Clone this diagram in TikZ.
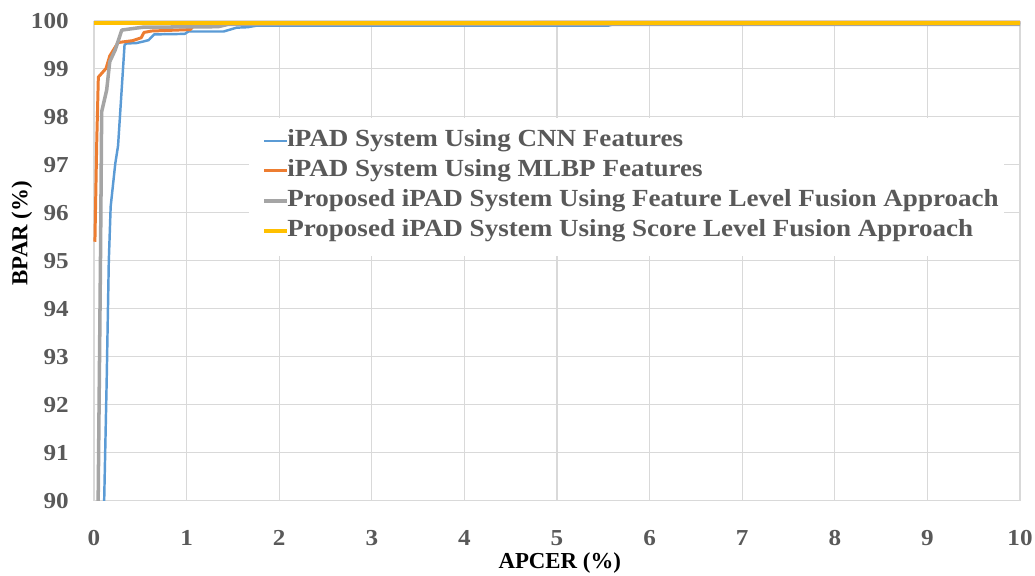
\documentclass[tikz,border=0pt]{standalone}
\usepackage{xcolor}
\usepackage{fontspec}
\setmainfont{Liberation Serif}
\newfontfamily\chartfont{Liberation Serif}[FakeStretch=1.1]
\usepackage{tikz}
\usetikzlibrary{positioning}
\definecolor{cnnblue}{HTML}{5B9BD5}
\definecolor{mlbporange}{HTML}{ED7D31}
\definecolor{featgray}{HTML}{A5A5A5}
\definecolor{scoreyellow}{HTML}{FFC000}
\definecolor{gridgray}{HTML}{D9D9D9}
\definecolor{labelgray}{HTML}{595959}
\tikzstyle{gridline} = [draw=gridgray, line width=0.6pt]
\tikzstyle{tick} = [draw=none, inner sep=0, text=labelgray, font=\chartfont\fontsize{13}{13}\selectfont\bfseries]
\tikzstyle{leg} = [draw=none, inner sep=0, anchor=west, text=labelgray, font=\chartfont\fontsize{14}{14}\selectfont\bfseries]
\tikzstyle{axtitle} = [draw=none, inner sep=0, text=black, font=\fontsize{13}{13}\selectfont\bfseries]
\tikzstyle{cnn} = [draw=cnnblue, line width=1.4pt, line join=round]
\tikzstyle{mlbp} = [draw=mlbporange, line width=1.7pt, line join=round]
\tikzstyle{feat} = [draw=featgray, line width=2pt, line join=round]
\tikzstyle{score} = [draw=scoreyellow, line width=2pt]

\begin{document}
\begin{tikzpicture}[x=1.852cm, y=0.96cm]
\useasboundingbox (-1.015,88.458) rectangle (10.162,100.4375);
% grid
\foreach \x in {0,...,10} \draw [gridline] (\x,90) -- (\x,100);
\foreach \y in {91,...,100} \draw [gridline] (0,\y) -- (10,\y);
\draw [gridline] (0,90) -- (10,90);
\foreach \y in {90,...,100} \node [tick, anchor=east] (yt\y) at (-0.27,\y) {\y};
\foreach \x in {0,...,10} \node [tick] (xt\x) at (\x,89.23) {\x};
\node [axtitle] (xtitle) at (5.03,88.71) {APCER (\%)};
\node [axtitle, rotate=90] (ytitle) at (-0.778,95.58) {BPAR (\%)};
% legend
\fill [white] (1.674,95.1) rectangle (9.83,97.98);
\node [leg] (lcnn) at (2.084,97.5) {iPAD System Using CNN Features};
\node [leg] (lmlbp) at (2.084,96.875) {iPAD System Using MLBP Features};
\node [leg] (lfeat) at (2.084,96.25) {Proposed iPAD System Using Feature Level Fusion Approach};
\node [leg] (lscore) at (2.084,95.625) {Proposed iPAD System Using Score Level Fusion Approach};
\draw [cnn] ([xshift=-0.45cm]lcnn.west) -- (lcnn.west);
\draw [mlbp] ([xshift=-0.45cm]lmlbp.west) -- (lmlbp.west);
\draw [feat] ([xshift=-0.45cm]lfeat.west) -- (lfeat.west);
\draw [score] ([xshift=-0.45cm]lscore.west) -- (lscore.west);
% curves
\draw [cnn] (0.11,90) -- (0.137,92.5) -- (0.16,95.0) -- (0.18,96.13) -- (0.23,97.03) -- (0.26,97.4)
  -- (0.33,99.5) -- (0.35,99.53) -- (0.46,99.54) -- (0.53,99.57) -- (0.59,99.6) -- (0.65,99.72)
  -- (0.98,99.73) -- (1.02,99.78) -- (1.40,99.78) -- (1.47,99.82) -- (1.54,99.86) -- (1.66,99.87)
  -- (1.75,99.9) -- (5.55,99.9) -- (5.65,99.95) -- (10,99.95);
\draw [mlbp] (0.01,95.4) -- (0.03,97.5) -- (0.047,98.83) -- (0.13,99.01) -- (0.17,99.27) -- (0.26,99.55)
  -- (0.42,99.59) -- (0.48,99.63) -- (0.51,99.65) -- (0.54,99.76) -- (0.62,99.79) -- (1.04,99.82)
  -- (1.09,99.93) -- (4.7,99.93) -- (4.75,99.97) -- (10,99.97);
\draw [feat] (0.045,90) -- (0.07,95) -- (0.083,98.11) -- (0.137,98.56) -- (0.17,99.15) -- (0.23,99.4)
  -- (0.30,99.81) -- (0.53,99.87) -- (1.34,99.88) -- (1.45,99.93) -- (10,99.93);
\draw [score] (0,99.96) -- (10,99.96);
\end{tikzpicture}
\end{document}
